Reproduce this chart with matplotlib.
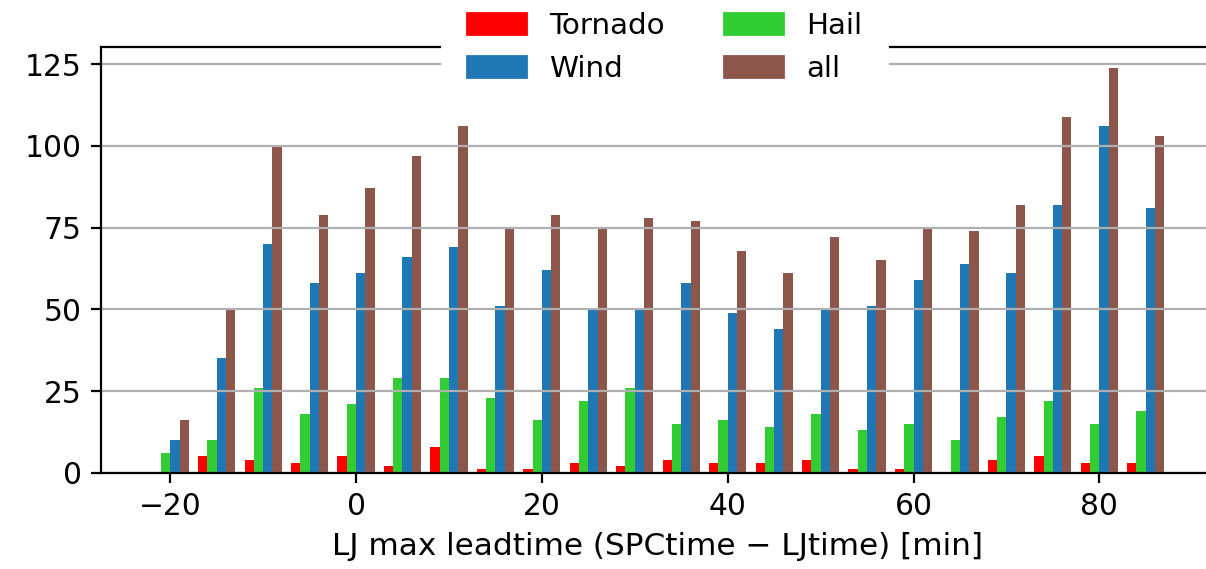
import numpy as np
import matplotlib
matplotlib.use('Agg')
import matplotlib.pyplot as plt
from matplotlib.patches import Patch

# bin centres of the lead time histogram [min]
leadtime = [-20, -15, -10, -5, 0, 5, 10, 15, 20, 25, 30, 35, 40, 45, 50, 55, 60, 65, 70, 75, 80, 85]

tornado = [0, 5, 4, 3, 5, 2, 8, 1, 1, 3, 2, 4, 3, 3, 4, 1, 1, 0, 4, 5, 3, 3]
hail = [6, 10, 26, 18, 21, 29, 29, 23, 16, 22, 26, 15, 16, 14, 18, 13, 15, 10, 17, 22, 15, 19]
wind = [10, 35, 70, 58, 61, 66, 69, 51, 62, 50, 50, 58, 49, 44, 50, 51, 59, 64, 61, 82, 106, 81]
all_reports = [16, 50, 100, 79, 87, 97, 106, 75, 79, 75, 78, 77, 68, 61, 72, 65, 75, 74, 82, 109, 124, 103]

c_tor = '#ff0000'
c_hail = '#32cd32'
c_wind = '#1f77b4'
c_all = '#8c564b'

fig = plt.figure(figsize=(6.03, 2.845), dpi=200)
ax = fig.add_axes([101/1206., 96.3/569., 1114/1206., 425.4/569.])

x = np.array(leadtime, dtype=float)
w = 1.0
ax.bar(x - 1.5*w, tornado, width=w, color=c_tor)
ax.bar(x - 0.5*w, hail, width=w, color=c_hail)
ax.bar(x + 0.5*w, wind, width=w, color=c_wind)
ax.bar(x + 1.5*w, all_reports, width=w, color=c_all)

ax.set_xlim(-27.45, 92.45)
ax.set_ylim(0, 130.2)
ax.set_yticks([0, 25, 50, 75, 100, 125])
ax.set_xticks([-20, 0, 20, 40, 60, 80])
ax.tick_params(labelsize=10.7)
ax.yaxis.grid(True, color='#b0b0b0', linewidth=0.8)
ax.set_xlabel('LJ max leadtime (SPCtime \u2212 LJtime) [min]', fontsize=11.2)

handles = [Patch(color=c_tor, label='Tornado'), Patch(color=c_wind, label='Wind'),
           Patch(color=c_hail, label='Hail'), Patch(color=c_all, label='all')]
leg = ax.legend(handles=handles, loc='center', bbox_to_anchor=(0.506, 1.0), ncol=2,
                fontsize=10.6, framealpha=1, fancybox=False, borderpad=0.85)
leg.get_frame().set_edgecolor('white')

fig.savefig('out.png', dpi=200)
